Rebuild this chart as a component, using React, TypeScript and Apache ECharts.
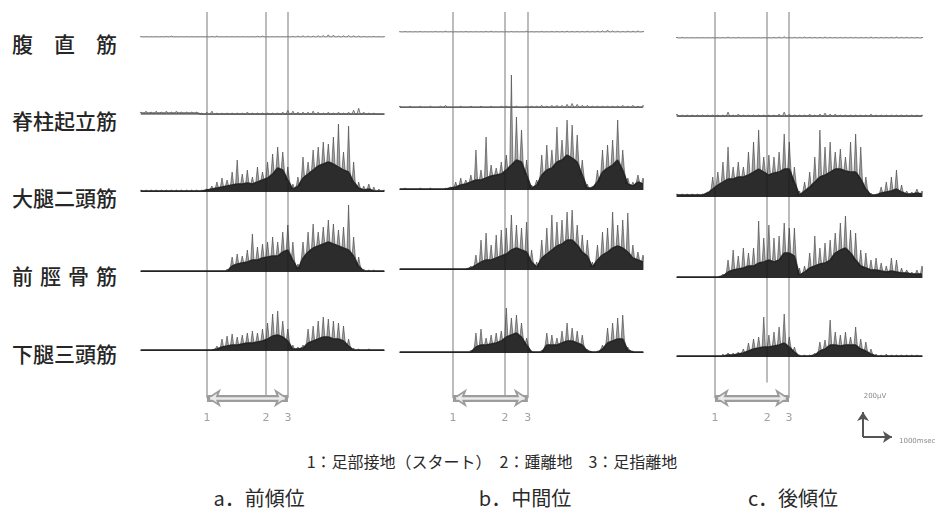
import React, { useEffect, useRef } from "react";
import * as echarts from "echarts";

// ---------- labels ----------
const MUSCLES = ["腹　直　筋", "脊柱起立筋", "大腿二頭筋", "前\u2004脛\u2004骨\u2004筋", "下腿三頭筋"];
const POSTURES = ["a．前傾位", "b．中間位", "c．後傾位"];
const EVENT_NAMES = ["1", "2", "3"];
const EVENT_LEGEND = "1：足部接地（スタート）　2：踵離地　3：足指離地";
const SCALE_UV_LABEL = "200μV";
const SCALE_MS_LABEL = "1000msec";

// ---------- time base / scale ----------
const SAMPLE_MS = 175; // one sample every 175 ms, 49 samples = 0..8400 ms
const TRACE_MS = 8400;
const SCALE_UV = 200;
const SCALE_MS = 1000;

// event times (ms from start of trace): 1 foot contact, 2 heel off, 3 toe off
const EVENTS_A = [2280, 4320, 5080];
const EVENTS_B = [1830, 3630, 4420];
const EVENTS_C = [1300, 3090, 3840];

// ---------- EMG amplitude (μV): spike peak and dense core per 175 ms sample ----------
// a. 前傾位
const A_RA_PEAK = [8,8,8,8,8,16,24,8,8,8,8,8,8,8,16,24,8,8,8,8,8,8,8,16,24,8,8,8,8,16,16,24,32,24,24,32,40,56,48,24,32,40,32,24,16,8,16,8,8];
const A_ES_PEAK = [24,32,24,32,24,32,24,32,24,24,24,24,16,24,32,16,16,16,16,16,16,24,16,16,16,16,16,16,24,40,32,24,24,24,32,24,16,24,16,24,16,24,40,56,24,16,16,8,8];
const A_ES_CORE = [16,16,16,16,16,16,16,16,16,16,16,16,8,8,8,8,8,8,8,8,8,8,8,8,8,8,8,8,8,8,8,8,8,8,8,8,8,8,8,8,8,8,8,8,8,8,8,8,8];
const A_BF_PEAK = [16,16,16,16,16,16,16,16,16,16,16,16,16,24,48,80,112,96,160,256,144,176,120,200,160,240,304,360,320,200,64,120,280,240,336,360,400,384,440,544,320,528,240,80,48,64,40,24,16];
const A_BF_CORE = [8,8,8,8,8,8,8,8,8,8,8,8,8,16,24,32,40,48,56,64,64,72,64,80,96,112,144,192,176,96,24,48,112,144,176,208,224,240,224,200,176,160,80,32,16,24,8,8,8];
const A_TA_PEAK = [8,8,8,8,8,8,8,8,8,8,8,8,8,8,8,8,8,24,120,144,128,176,304,200,224,240,280,240,320,376,240,64,240,320,384,320,360,416,384,336,360,536,280,120,24,16,16,8,8];
const A_TA_CORE = [8,8,8,8,8,8,8,8,8,8,8,8,8,8,8,8,8,8,48,64,72,80,96,96,112,120,128,128,160,176,96,24,112,160,192,208,224,240,224,208,192,176,128,48,8,8,8,8,8];
const A_TS_PEAK = [8,8,8,8,8,8,8,8,8,8,8,8,8,8,8,40,96,120,136,112,128,144,160,144,176,224,296,320,240,176,48,32,48,176,200,240,272,256,240,224,200,96,24,16,8,16,8,8,8];
const A_TS_CORE = [8,8,8,8,8,8,8,8,8,8,8,8,8,8,8,16,32,40,48,48,56,64,64,72,80,96,120,128,112,80,16,16,24,64,80,96,112,112,96,96,80,40,8,8,8,8,8,8,8];

// b. 中間位
const B_RA_PEAK = [8,16,8,8,16,8,8,16,8,24,8,8,8,16,8,8,8,16,24,8,8,8,16,8,8,24,8,8,16,8,16,16,16,24,16,16,16,24,16,24,32,56,32,24,16,24,24,32,16];
const B_ES_PEAK = [16,8,16,8,16,8,16,8,16,24,8,8,16,8,16,8,16,8,16,8,16,16,8,16,8,16,16,16,24,16,24,24,24,32,40,32,24,24,16,16,16,16,16,16,24,16,24,16,24];
const B_ES_CORE = [8,8,8,8,8,8,8,8,8,8,8,8,8,8,8,8,8,8,8,8,8,8,8,8,8,8,8,8,8,8,8,8,8,8,8,8,8,8,8,8,8,8,8,8,8,8,8,8,8];
const B_BF_PEAK = [8,16,8,8,16,8,16,8,8,16,24,64,96,80,120,320,160,424,200,176,224,280,920,584,480,240,40,80,280,360,320,504,400,560,520,440,240,48,32,160,320,360,400,560,320,96,64,120,96];
const B_BF_CORE = [8,8,8,8,8,8,8,8,8,8,16,24,40,48,64,80,80,96,112,120,128,160,200,240,224,120,16,40,120,160,176,224,240,280,256,224,120,16,16,64,144,176,200,240,160,48,32,64,48];
const B_TA_PEAK = [8,8,8,8,8,8,8,8,8,8,8,8,8,8,32,120,240,296,200,280,320,336,440,360,336,384,160,64,240,336,440,384,400,464,480,360,280,240,64,200,304,336,464,360,400,456,200,144,120];
const B_TA_CORE = [8,8,8,8,8,8,8,8,8,8,8,8,8,8,16,40,64,80,80,96,112,128,160,176,160,144,64,24,96,128,160,192,208,240,240,200,144,112,24,80,120,144,176,192,176,144,96,80,64];
const B_TS_PEAK = [8,8,8,8,8,8,8,8,8,8,8,8,8,8,24,160,192,120,144,160,176,360,280,304,240,120,16,8,24,160,144,120,176,240,200,176,144,32,8,16,64,200,240,280,304,48,16,8,8];
const B_TS_CORE = [8,8,8,8,8,8,8,8,8,8,8,8,8,8,8,48,64,64,72,80,96,128,144,160,128,64,8,8,8,64,64,64,80,96,96,80,64,16,8,8,32,80,96,112,112,24,8,8,8];

// c. 後傾位
const C_RA_PEAK = [16,16,8,8,8,8,8,8,8,8,24,8,16,8,8,8,8,8,8,16,24,32,16,16,16,24,16,16,16,24,16,16,16,16,16,16,16,16,24,16,16,16,16,24,16,16,16,16,16];
const C_ES_PEAK = [24,16,16,16,16,16,16,16,16,16,40,16,24,16,16,16,16,16,16,16,24,40,24,16,16,16,24,16,24,32,24,24,16,16,16,16,16,16,24,16,16,16,16,16,16,16,16,16,16];
const C_ES_CORE = [8,8,8,8,8,8,8,8,8,8,8,8,8,8,8,8,8,8,8,8,8,8,8,8,8,8,8,8,8,8,8,8,8,8,8,8,8,8,8,8,8,8,8,8,8,8,8,8,8];
const C_BF_PEAK = [24,24,24,24,24,24,40,160,200,280,400,240,280,240,360,440,536,320,336,320,360,504,440,240,48,120,200,320,536,400,440,360,384,320,440,504,400,160,32,24,80,120,160,216,96,48,40,64,48];
const C_BF_CORE = [16,16,16,16,16,16,32,64,96,120,144,144,160,160,176,200,224,200,176,192,200,224,224,120,16,48,80,120,160,176,200,224,224,208,200,200,144,64,16,16,32,40,48,64,40,24,24,32,24];
const C_TA_PEAK = [8,8,8,8,8,8,8,8,8,32,144,224,176,240,200,240,456,320,424,320,336,440,400,400,80,96,200,336,240,280,304,360,440,496,384,360,224,200,144,160,120,96,160,144,80,64,48,64,96];
const C_TA_CORE = [8,8,8,8,8,8,8,8,8,16,48,64,72,80,96,96,120,128,144,128,144,200,200,176,24,48,80,96,112,120,144,200,224,240,200,144,96,80,64,64,56,48,56,48,40,40,32,32,32];
const C_TS_PEAK = [8,8,8,8,8,8,8,8,8,24,32,32,40,64,112,144,160,320,176,200,240,344,160,80,16,16,16,32,120,136,296,200,176,200,160,240,144,120,64,24,16,24,16,16,16,16,16,16,8];
const C_TS_CORE = [8,8,8,8,8,8,8,8,8,8,16,16,24,32,48,64,72,80,80,88,96,112,80,40,8,8,8,16,48,64,96,96,88,96,96,96,64,48,24,8,8,8,8,8,8,8,8,8,8];

type Trace = { peak: number[]; core?: number[] };

const PANELS: Trace[][] = [
  [{ peak: A_RA_PEAK }, { peak: A_ES_PEAK, core: A_ES_CORE }, { peak: A_BF_PEAK, core: A_BF_CORE }, { peak: A_TA_PEAK, core: A_TA_CORE }, { peak: A_TS_PEAK, core: A_TS_CORE }],
  [{ peak: B_RA_PEAK }, { peak: B_ES_PEAK, core: B_ES_CORE }, { peak: B_BF_PEAK, core: B_BF_CORE }, { peak: B_TA_PEAK, core: B_TA_CORE }, { peak: B_TS_PEAK, core: B_TS_CORE }],
  [{ peak: C_RA_PEAK }, { peak: C_ES_PEAK, core: C_ES_CORE }, { peak: C_BF_PEAK, core: C_BF_CORE }, { peak: C_TA_PEAK, core: C_TA_CORE }, { peak: C_TS_PEAK, core: C_TS_CORE }],
];
const PANEL_EVENTS = [EVENTS_A, EVENTS_B, EVENTS_C];

// ---------- layout (pixels) ----------
const W = 939;
const H = 513;
const TRACE_LEFT = [141, 400, 677];
const TRACE_WIDTH = [243, 243, 245];
const BASELINE_Y = [
  [37, 115, 192, 272, 351],
  [32, 108, 190, 270, 353],
  [38, 117, 197, 278, 357],
];
const LABEL_Y = [43, 120, 197, 275, 353];
const TRACE_H = 120;
const UV_PER_PX = 8;
const AMP_MAX = TRACE_H * UV_PER_PX;
const SPIKE_HALF_MS = 55;
const EVENT_TOP = 12;
const EVENT_BOTTOM = 398;
const POSTURE_X = [259, 525, 793];
const SCALE_X = 863;
const SCALE_Y = 437;
const JP_FONT = "'Noto Sans CJK JP', 'Noto Sans', sans-serif";

function zigzag(peak: number[], core: number[]) {
  const pts: number[][] = [];
  peak.forEach((p, i) => {
    const t = i * SAMPLE_MS;
    const c = core[i];
    pts.push([t - SPIKE_HALF_MS, c], [t, p], [t + SPIKE_HALF_MS, c]);
  });
  return pts;
}

function hiddenCarrier(gi: number, z: number, markLine: any) {
  return {
    type: "line", xAxisIndex: gi, yAxisIndex: gi, data: [[0, -1]], symbol: "none",
    lineStyle: { opacity: 0 }, z, silent: true, markLine,
  };
}

function buildTraceOption() {
  const grid: any[] = [];
  const xAxis: any[] = [];
  const yAxis: any[] = [];
  const series: any[] = [];

  const addGrid = (g: any, xmax: number, ymin: number, ymax: number) => {
    const gi = grid.length;
    grid.push(g);
    xAxis.push({ type: "value", gridIndex: gi, min: 0, max: xmax, show: false });
    yAxis.push({ type: "value", gridIndex: gi, min: ymin, max: ymax, show: false });
    return gi;
  };

  // event lines, arrows, labels
  PANEL_EVENTS.forEach((ev, p) => {
    const gi = addGrid(
      { left: TRACE_LEFT[p], width: TRACE_WIDTH[p], top: EVENT_TOP, height: EVENT_BOTTOM - EVENT_TOP },
      TRACE_MS, 0, 1
    );
    series.push(hiddenCarrier(gi, 1, {
      silent: true,
      symbol: ["none", "none"],
      lineStyle: { color: "#bcbcbc", width: 2, type: "solid" },
      label: { show: true, position: "end", formatter: "{b}", color: "#a0a0a0", fontSize: 11, distance: 14, fontFamily: "DejaVu Sans" },
      data: ev.map((t, k) => {
        const short = p === 2 && k === 1;
        return [
          { name: EVENT_NAMES[k], coord: [t, 1], label: short ? { distance: 29 } : undefined },
          { coord: [t, short ? 0.04 : 0] },
        ];
      }),
    }));
    // hollow double arrow from 1 to 3
    series.push(hiddenCarrier(gi, 2, {
      silent: true, symbol: ["arrow", "arrow"], symbolSize: 14,
      lineStyle: { color: "#9c9c9c", width: 7, type: "solid" },
      label: { show: false },
      data: [[{ coord: [ev[0], 0] }, { coord: [ev[2], 0] }]],
    }));
    series.push(hiddenCarrier(gi, 3, {
      silent: true, symbol: ["arrow", "arrow"], symbolSize: 7,
      lineStyle: { color: "#ebebeb", width: 2.5, type: "solid" },
      label: { show: false },
      data: [[{ coord: [ev[0] + 110, 0] }, { coord: [ev[2] - 110, 0] }]],
    }));
  });

  // EMG traces
  PANELS.forEach((panel, p) => {
    panel.forEach((trace, r) => {
      const gi = addGrid(
        { left: TRACE_LEFT[p], width: TRACE_WIDTH[p], top: BASELINE_Y[p][r] - TRACE_H, height: TRACE_H },
        TRACE_MS, 0, AMP_MAX
      );
      const core = trace.core ?? trace.peak.map(() => 0);
      const quiet = r < 2;
      series.push({
        type: "line",
        xAxisIndex: gi,
        yAxisIndex: gi,
        data: zigzag(trace.peak, core),
        symbol: "none",
        silent: true,
        z: 5,
        lineStyle: { color: quiet ? "#6a6a6a" : "#2a2a2a", width: quiet ? 1 : 0.8, opacity: quiet ? 0.9 : 0.65 },
        areaStyle: { color: quiet ? "#9a9a9a" : "#4a4a4a", opacity: quiet ? 0.3 : 0.5 },
      });
      series.push({
        type: "line",
        xAxisIndex: gi,
        yAxisIndex: gi,
        data: core.map((c, i) => [i * SAMPLE_MS, c]),
        symbol: "none",
        silent: true,
        z: 6,
        lineStyle: { color: r === 0 ? "#8a8a8a" : r === 1 ? "#555" : "#222", width: r === 0 ? 1 : 1.4, opacity: 0.9 },
        areaStyle: { color: r === 1 ? "#666" : "#111", opacity: r === 1 ? 0.6 : 0.82 },
      });
    });
  });

  // scale bar: 200 μV / 1000 ms, same px scale as the traces
  const scaleW = (TRACE_WIDTH[0] * SCALE_MS) / TRACE_MS;
  const sg = addGrid({ left: SCALE_X, width: scaleW, top: SCALE_Y - TRACE_H, height: TRACE_H }, SCALE_MS, 0, AMP_MAX);
  series.push(hiddenCarrier(sg, 5, {
    silent: true, symbol: ["none", "arrow"], symbolSize: 9,
    lineStyle: { color: "#555", width: 2, type: "solid" },
    label: { show: false },
    data: [
      [{ coord: [0, 0] }, { coord: [0, SCALE_UV] }],
      [{ coord: [0, 0] }, { coord: [SCALE_MS, 0] }],
    ],
  }));

  const graphic: any[] = [
    {
      type: "text", x: 875, y: 396,
      style: { text: SCALE_UV_LABEL, fontSize: 7, fontFamily: "DejaVu Sans", fill: "#8a8a8a", align: "center", verticalAlign: "middle" },
    },
    {
      type: "text", x: 899, y: 441,
      style: { text: SCALE_MS_LABEL, fontSize: 7, fontFamily: "DejaVu Sans", fill: "#8a8a8a", align: "left", verticalAlign: "middle" },
    },
  ];

  return { animation: false, backgroundColor: "#ffffff", grid, xAxis, yAxis, series, graphic };
}

function buildTextOption() {
  const graphic: any[] = [];
  MUSCLES.forEach((m, r) => {
    graphic.push({
      type: "text", x: 12, y: LABEL_Y[r],
      style: { text: m, fontSize: 21, fontWeight: 500, fontFamily: JP_FONT, fill: "#262626", align: "left", verticalAlign: "middle" },
    });
  });
  POSTURES.forEach((s, p) => {
    graphic.push({
      type: "text", x: POSTURE_X[p], y: 497,
      style: { text: s, fontSize: 20, fontFamily: JP_FONT, fill: "#2a2a2a", align: "center", verticalAlign: "middle" },
    });
  });
  graphic.push({
    type: "text", x: 492, y: 461,
    style: { text: EVENT_LEGEND, fontSize: 16, fontFamily: JP_FONT, fill: "#2a2a2a", align: "center", verticalAlign: "middle" },
  });
  return { animation: false, graphic };
}

export default function App() {
  const traceRef = useRef<HTMLDivElement>(null);
  const textRef = useRef<HTMLDivElement>(null);
  useEffect(() => {
    if (!traceRef.current || !textRef.current) return;
    const traces = echarts.init(traceRef.current, undefined, { renderer: "svg" });
    traces.setOption(buildTraceOption() as any);
    const texts = echarts.init(textRef.current, undefined, { renderer: "svg" });
    texts.setOption(buildTextOption() as any);
    return () => {
      traces.dispose();
      texts.dispose();
    };
  }, []);
  return (
    <div style={{ position: "fixed", left: 0, top: 0, width: W, height: H, background: "#fff" }}>
      <div ref={traceRef} style={{ position: "absolute", left: 0, top: 0, width: W, height: H, filter: "blur(0.7px)" }} />
      <div ref={textRef} style={{ position: "absolute", left: 0, top: 0, width: W, height: H }} />
    </div>
  );
}
